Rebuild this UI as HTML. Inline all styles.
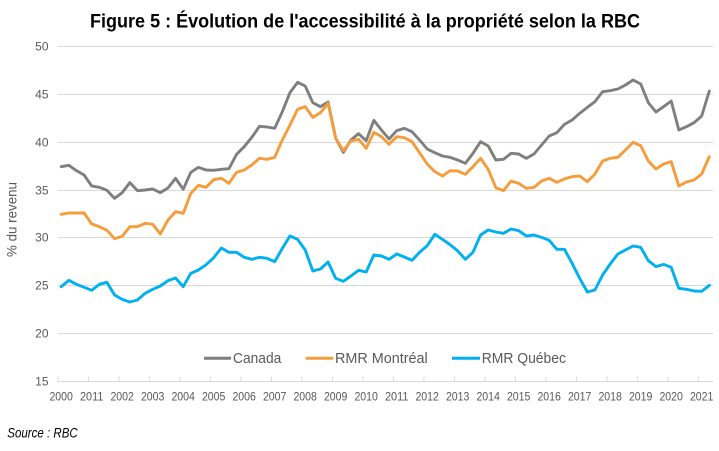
<!DOCTYPE html>
<html>
<head>
<meta charset="utf-8">
<style>
  html,body{margin:0;padding:0;background:#fff;}
  body{width:719px;height:451px;overflow:hidden;}
  svg{display:block;font-family:"Liberation Sans", sans-serif;}
</style>
</head>
<body>
<svg width="719" height="451" viewBox="0 0 719 451" xmlns="http://www.w3.org/2000/svg">
  <rect x="0" y="0" width="719" height="451" fill="#ffffff"/>

  <!-- Title -->
  <text x="90" y="27.5" font-size="19.5" font-weight="bold" fill="#000" textLength="550" lengthAdjust="spacingAndGlyphs">Figure 5 : Évolution de l'accessibilité à la propriété selon la RBC</text>

  <!-- gridlines -->
  <g stroke="#d9d9d9" stroke-width="1">
    <line x1="57.5" y1="46.5" x2="713" y2="46.5"/>
    <line x1="57.5" y1="94.5" x2="713" y2="94.5"/>
    <line x1="57.5" y1="142.5" x2="713" y2="142.5"/>
    <line x1="57.5" y1="190.5" x2="713" y2="190.5"/>
    <line x1="57.5" y1="237.5" x2="713" y2="237.5"/>
    <line x1="57.5" y1="285.5" x2="713" y2="285.5"/>
    <line x1="57.5" y1="333.5" x2="713" y2="333.5"/>
    <line x1="57.5" y1="381.5" x2="713" y2="381.5"/>
  </g>
  <!-- ticks -->
  <g stroke="#d9d9d9" stroke-width="1">
    <line x1="57.9" y1="376.5" x2="57.9" y2="381.5"/>
    <line x1="88.4" y1="376.5" x2="88.4" y2="381.5"/>
    <line x1="118.9" y1="376.5" x2="118.9" y2="381.5"/>
    <line x1="149.4" y1="376.5" x2="149.4" y2="381.5"/>
    <line x1="179.9" y1="376.5" x2="179.9" y2="381.5"/>
    <line x1="210.4" y1="376.5" x2="210.4" y2="381.5"/>
    <line x1="240.9" y1="376.5" x2="240.9" y2="381.5"/>
    <line x1="271.4" y1="376.5" x2="271.4" y2="381.5"/>
    <line x1="301.9" y1="376.5" x2="301.9" y2="381.5"/>
    <line x1="332.4" y1="376.5" x2="332.4" y2="381.5"/>
    <line x1="362.9" y1="376.5" x2="362.9" y2="381.5"/>
    <line x1="393.4" y1="376.5" x2="393.4" y2="381.5"/>
    <line x1="423.9" y1="376.5" x2="423.9" y2="381.5"/>
    <line x1="454.4" y1="376.5" x2="454.4" y2="381.5"/>
    <line x1="484.9" y1="376.5" x2="484.9" y2="381.5"/>
    <line x1="515.4" y1="376.5" x2="515.4" y2="381.5"/>
    <line x1="545.9" y1="376.5" x2="545.9" y2="381.5"/>
    <line x1="576.4" y1="376.5" x2="576.4" y2="381.5"/>
    <line x1="606.9" y1="376.5" x2="606.9" y2="381.5"/>
    <line x1="637.4" y1="376.5" x2="637.4" y2="381.5"/>
    <line x1="667.9" y1="376.5" x2="667.9" y2="381.5"/>
    <line x1="698.4" y1="376.5" x2="698.4" y2="381.5"/>
  </g>

  <!-- y labels -->
  <g font-size="12" fill="#595959" text-anchor="end">
    <text x="48.5" y="50.5">50</text>
    <text x="48.5" y="98.5">45</text>
    <text x="48.5" y="146.5">40</text>
    <text x="48.5" y="194.5">35</text>
    <text x="48.5" y="241.5">30</text>
    <text x="48.5" y="289.5">25</text>
    <text x="48.5" y="337.5">20</text>
    <text x="48.5" y="385.5">15</text>
  </g>

  <!-- y title -->
  <text transform="translate(16.5 219.5) rotate(-90)" font-size="13.5" fill="#595959" text-anchor="middle" textLength="75" lengthAdjust="spacingAndGlyphs">% du revenu</text>

  <!-- x labels -->
  <g font-size="12" fill="#595959" text-anchor="middle">
    <text x="61.2" y="400.5" textLength="23.5" lengthAdjust="spacingAndGlyphs">2000</text>
    <text x="91.7" y="400.5" textLength="23.5" lengthAdjust="spacingAndGlyphs">2011</text>
    <text x="122.2" y="400.5" textLength="23.5" lengthAdjust="spacingAndGlyphs">2002</text>
    <text x="152.7" y="400.5" textLength="23.5" lengthAdjust="spacingAndGlyphs">2003</text>
    <text x="183.2" y="400.5" textLength="23.5" lengthAdjust="spacingAndGlyphs">2004</text>
    <text x="213.7" y="400.5" textLength="23.5" lengthAdjust="spacingAndGlyphs">2005</text>
    <text x="244.2" y="400.5" textLength="23.5" lengthAdjust="spacingAndGlyphs">2006</text>
    <text x="274.7" y="400.5" textLength="23.5" lengthAdjust="spacingAndGlyphs">2007</text>
    <text x="305.2" y="400.5" textLength="23.5" lengthAdjust="spacingAndGlyphs">2008</text>
    <text x="335.7" y="400.5" textLength="23.5" lengthAdjust="spacingAndGlyphs">2009</text>
    <text x="366.2" y="400.5" textLength="23.5" lengthAdjust="spacingAndGlyphs">2010</text>
    <text x="396.7" y="400.5" textLength="23.5" lengthAdjust="spacingAndGlyphs">2011</text>
    <text x="427.2" y="400.5" textLength="23.5" lengthAdjust="spacingAndGlyphs">2012</text>
    <text x="457.7" y="400.5" textLength="23.5" lengthAdjust="spacingAndGlyphs">2013</text>
    <text x="488.2" y="400.5" textLength="23.5" lengthAdjust="spacingAndGlyphs">2014</text>
    <text x="518.7" y="400.5" textLength="23.5" lengthAdjust="spacingAndGlyphs">2015</text>
    <text x="549.2" y="400.5" textLength="23.5" lengthAdjust="spacingAndGlyphs">2016</text>
    <text x="579.7" y="400.5" textLength="23.5" lengthAdjust="spacingAndGlyphs">2017</text>
    <text x="610.2" y="400.5" textLength="23.5" lengthAdjust="spacingAndGlyphs">2018</text>
    <text x="640.7" y="400.5" textLength="23.5" lengthAdjust="spacingAndGlyphs">2019</text>
    <text x="671.2" y="400.5" textLength="23.5" lengthAdjust="spacingAndGlyphs">2020</text>
    <text x="701.7" y="400.5" textLength="23.5" lengthAdjust="spacingAndGlyphs">2021</text>
  </g>

  <!-- Series: Canada & Montreal (y = 30 + Y/3) -->
  <g transform="translate(61.2 30) scale(7.625 0.333333)" fill="none" stroke-linejoin="round" stroke-linecap="round">
    <polyline vector-effect="non-scaling-stroke" stroke="#7f7f7f" stroke-width="2.9" points="0,410 1,406 2,422 3,435 4,468 5,472 6,481 7,505 8,488 9,458 10,482 11,480 12,477 13,488 14,474 15,445 16,478 17,427 18,412 19,420 20,421 21,418 22,416 23,373 24,350 25,322 26,289 27,291 28,295 29,245 30,188 31,157 32,168 33,218 34,230 35,216 36,325 37,367 38,330 39,311 40,332 41,271 42,300 43,327 44,302 45,295 46,305 47,330 48,357 49,368 50,378 51,382 52,390 53,400 54,370 55,335 56,348 57,390 58,388 59,370 60,372 61,385 62,372 63,345 64,318 65,308 66,283 67,270 68,250 69,232 70,215 71,185 72,182 73,177 74,165 75,150 76,162 77,218 78,246 79,230 80,213 81,300 82,290 83,278 84,258 85,183"/>
    <polyline vector-effect="non-scaling-stroke" stroke="#f79c3b" stroke-width="2.9" points="0,553 1,549 2,549 3,549 4,582 5,590 6,601 7,626 8,619 9,590 10,590 11,580 12,583 13,612 14,570 15,545 16,550 17,490 18,466 19,472 20,449 21,445 22,460 23,427 24,420 25,405 26,385 27,388 28,382 29,330 30,285 31,238 32,230 33,262 34,248 35,220 36,325 37,362 38,333 39,328 40,355 41,307 42,320 43,343 44,320 45,323 46,335 47,368 48,402 49,425 50,438 51,422 52,423 53,433 54,410 55,385 56,418 57,473 58,482 59,453 60,460 61,475 62,472 63,453 64,445 65,457 66,447 67,440 68,438 69,455 70,432 71,393 72,385 73,382 74,360 75,337 76,347 77,393 78,417 79,402 80,395 81,468 82,456 83,450 84,432 85,380"/>
  </g>
  <!-- Series: Québec (y = 200 + Y/3) -->
  <g transform="translate(61.2 200) scale(7.625 0.333333)" fill="none" stroke-linejoin="round" stroke-linecap="round">
    <polyline vector-effect="non-scaling-stroke" stroke="#00b0f0" stroke-width="2.9" points="0,260 1,241 2,253 3,262 4,271 5,253 6,247 7,285 8,298 9,306 10,300 11,280 12,268 13,258 14,242 15,234 16,260 17,220 18,210 19,194 20,173 21,144 22,157 23,157 24,172 25,178 26,172 27,175 28,185 29,145 30,108 31,118 32,150 33,213 34,207 35,186 36,235 37,244 38,228 39,211 40,216 41,165 42,168 43,178 44,162 45,171 46,181 47,157 48,137 49,103 50,118 51,134 52,153 53,178 54,157 55,105 56,90 57,96 58,100 59,87 60,92 61,108 62,105 63,112 64,121 65,148 66,148 67,190 68,235 69,276 70,270 71,225 72,192 73,162 74,150 75,138 76,142 77,182 78,200 79,193 80,202 81,265 82,268 83,273 84,274 85,256"/>
  </g>

  <!-- Legend -->
  <g stroke-width="3">
    <line x1="204" y1="358.3" x2="231" y2="358.3" stroke="#7f7f7f"/>
    <line x1="305.7" y1="358.3" x2="333.3" y2="358.3" stroke="#f79c3b"/>
    <line x1="452" y1="358.3" x2="480" y2="358.3" stroke="#00b0f0"/>
  </g>
  <g font-size="15" fill="#595959">
    <text x="233" y="363" textLength="48.3" lengthAdjust="spacingAndGlyphs">Canada</text>
    <text x="335" y="363" textLength="92.7" lengthAdjust="spacingAndGlyphs">RMR Montréal</text>
    <text x="481.7" y="363" textLength="84.3" lengthAdjust="spacingAndGlyphs">RMR Québec</text>
  </g>

  <!-- Source -->
  <text x="7.3" y="437.5" font-size="13.5" font-style="italic" fill="#000" textLength="70.4" lengthAdjust="spacingAndGlyphs">Source : RBC</text>
</svg>
</body>
</html>
